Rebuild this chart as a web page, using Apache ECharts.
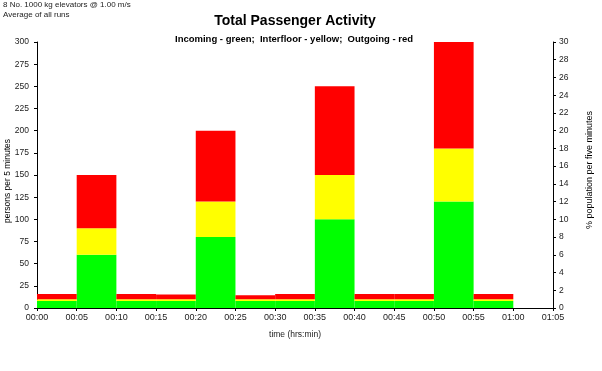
<!DOCTYPE html>
<html>
<head>
<meta charset="utf-8">
<script src="https://cdn.jsdelivr.net/npm/echarts@6/dist/echarts.min.js"></script>
<style>
html,body{margin:0;padding:0;background:#fff;}
#chart{width:602px;height:371px;}
</style>
</head>
<body>
<div id="chart"></div>
<script>
// Interval start times (minutes) and each interval's length
const intervalStart = [0, 5, 10, 15, 20, 25, 30, 35, 40, 45, 50, 55];
const intervalLength = 5;
// persons per 5 minutes
const incoming   = [7.8, 60, 7.8, 7.8, 80, 7.8, 7.8, 100, 7.8, 7.8, 120, 7.8];
const interfloor = [2.2, 30, 2.2, 2.2, 40, 2.2, 2.2, 50, 2.2, 2.2, 60, 2.2];
const outgoing   = [5.8, 60, 5.8, 5.3, 80, 4.5, 5.8, 100, 5.8, 5.8, 120, 5.8];
const xTicks = [0, 5, 10, 15, 20, 25, 30, 35, 40, 45, 50, 55, 60, 65];

function stackData(values, lowers) {
  return values.map((v, i) => {
    let base = 0;
    lowers.forEach(l => { base += l[i]; });
    return [intervalStart[i], intervalStart[i] + intervalLength, base, base + v];
  });
}
function renderRect(params, api) {
  const p1 = api.coord([api.value(0), api.value(3)]);
  const p2 = api.coord([api.value(1), api.value(2)]);
  return {
    type: 'rect',
    shape: { x: p1[0], y: p1[1], width: p2[0] - p1[0], height: p2[1] - p1[1] },
    style: { fill: api.visual('color') }
  };
}
function fmtTime(v) {
  const h = Math.floor(v / 60), m = v % 60;
  return String(h).padStart(2, '0') + ':' + String(m).padStart(2, '0');
}

const font = 'Liberation Sans, Arial, sans-serif';
const chart = echarts.init(document.getElementById('chart'), null, { renderer: 'canvas' });
chart.setOption({
  animation: false,
  backgroundColor: '#fff',
  textStyle: { fontFamily: font },
  title: [
    { text: 'Total Passenger Activity', left: 290, textAlign: 'center', top: 9,
      textStyle: { fontSize: 14, fontWeight: 'bold', color: '#000', fontFamily: font } },
    { text: 'Incoming - green;  Interfloor - yellow;  Outgoing - red', left: 289, textAlign: 'center', top: 29,
      textStyle: { fontSize: 9.5, fontWeight: 'bold', color: '#000', fontFamily: font } },
    { text: '8 No. 1000 kg elevators @ 1.00 m/s\nAverage of all runs', left: 3, top: 0, padding: 0,
      textStyle: { fontSize: 8, fontWeight: 'normal', color: '#222', lineHeight: 10, fontFamily: font } }
  ],
  grid: { left: 37, right: 49, top: 42, bottom: 63, containLabel: false, outerBoundsMode: 'none' },
  xAxis: {
    type: 'value', min: 0, max: 65, interval: 5,
    name: 'time (hrs:min)', nameLocation: 'middle', nameGap: 22, nameMoveOverlap: false,
    nameTextStyle: { fontSize: 8.5, color: '#222', fontFamily: font },
    axisLine: { lineStyle: { color: '#000', width: 1 } },
    axisTick: { length: 3, lineStyle: { color: '#000' } },
    axisLabel: { fontSize: 9, color: '#222', margin: 5, formatter: v => fmtTime(v), fontFamily: font },
    splitLine: { show: false }
  },
  yAxis: [
    { type: 'value', min: 0, max: 300, interval: 25, position: 'left',
      name: 'persons per 5 minutes', nameLocation: 'middle', nameGap: 25, nameRotate: 90, nameMoveOverlap: false,
      nameTextStyle: { fontSize: 8.5, color: '#000', fontFamily: font, padding: [0, 12, 0, 0] },
      axisLine: { show: true, lineStyle: { color: '#000', width: 1 } },
      axisTick: { show: true, length: 3, lineStyle: { color: '#000' } },
      axisLabel: { fontSize: 8.5, color: '#222', margin: 8, fontFamily: font },
      splitLine: { show: false } },
    { type: 'value', min: 0, max: 30, interval: 2, position: 'right',
      name: '% population per five minutes', nameLocation: 'middle', nameGap: 32, nameRotate: 90, nameMoveOverlap: false,
      nameTextStyle: { fontSize: 9, color: '#000', fontFamily: font, padding: [0, 0, 0, 10] },
      axisLine: { show: true, lineStyle: { color: '#000', width: 1 } },
      axisTick: { show: true, length: 3, lineStyle: { color: '#000' } },
      axisLabel: { fontSize: 8.5, color: '#222', margin: 6, fontFamily: font },
      splitLine: { show: false } }
  ],
  series: [
    { type: 'custom', name: 'Incoming', renderItem: renderRect, encode: { x: [0, 1], y: [2, 3] },
      itemStyle: { color: '#00ff00' }, data: stackData(incoming, []) },
    { type: 'custom', name: 'Interfloor', renderItem: renderRect, encode: { x: [0, 1], y: [2, 3] },
      itemStyle: { color: '#ffff00' }, data: stackData(interfloor, [incoming]) },
    { type: 'custom', name: 'Outgoing', renderItem: renderRect, encode: { x: [0, 1], y: [2, 3] },
      itemStyle: { color: '#ff0000' }, data: stackData(outgoing, [incoming, interfloor]) }
  ]
});
</script>
</body>
</html>
